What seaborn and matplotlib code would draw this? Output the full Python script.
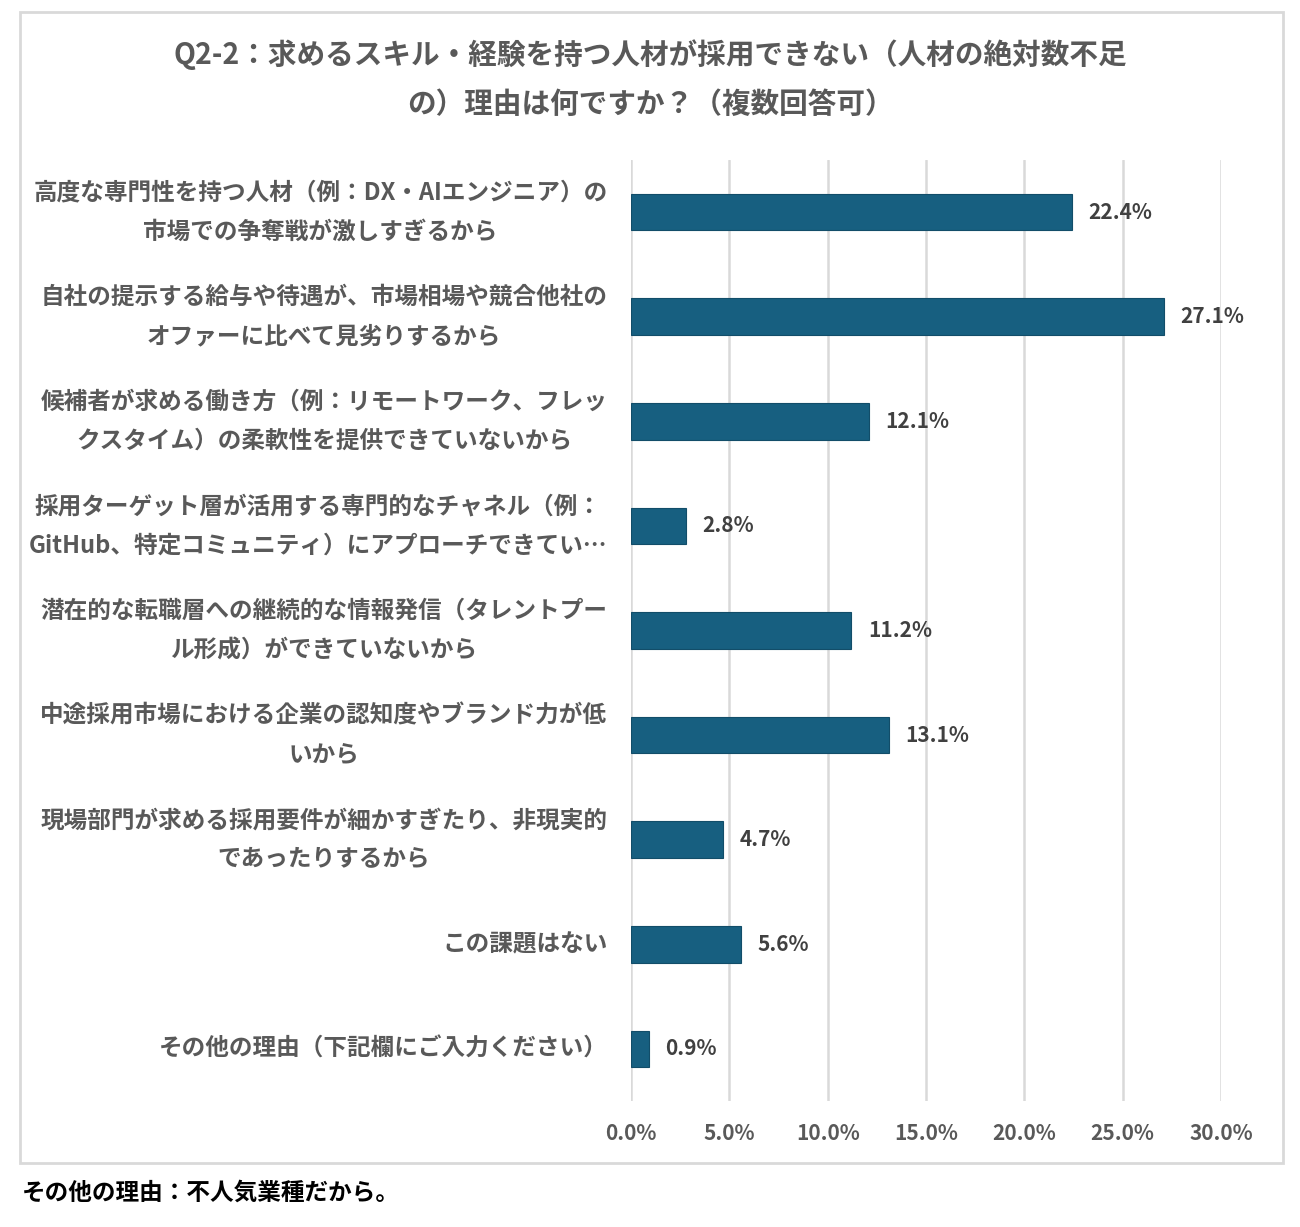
import matplotlib
matplotlib.use("Agg")
import matplotlib.pyplot as plt
import seaborn as sns
import pandas as pd
from matplotlib.patches import Rectangle

categories = [
    "高度な専門性を持つ人材（例：DX・AIエンジニア）の\n市場での争奪戦が激しすぎるから",
    "自社の提示する給与や待遇が、市場相場や競合他社の\nオファーに比べて見劣りするから",
    "候補者が求める働き方（例：リモートワーク、フレッ\nクスタイム）の柔軟性を提供できていないから",
    "採用ターゲット層が活用する専門的なチャネル（例：\nGitHub、特定コミュニティ）にアプローチできてい…",
    "潜在的な転職層への継続的な情報発信（タレントプー\nル形成）ができていないから",
    "中途採用市場における企業の認知度やブランド力が低\nいから",
    "現場部門が求める採用要件が細かすぎたり、非現実的\nであったりするから",
    "この課題はない",
    "その他の理由（下記欄にご入力ください）",
]
values = [22.4, 27.1, 12.1, 2.8, 11.2, 13.1, 4.7, 5.6, 0.9]
x_ticks = [0, 5, 10, 15, 20, 25, 30]
x_tick_labels = ["0.0%", "5.0%", "10.0%", "15.0%", "20.0%", "25.0%", "30.0%"]
title = "Q2-2：求めるスキル・経験を持つ人材が採用できない（人材の絶対数不足\nの）理由は何ですか？（複数回答可）"
footer = "その他の理由：不人気業種だから。"

sns.set_theme(style="white")
plt.rcParams["font.family"] = ["Noto Sans CJK JP", "DejaVu Sans"]

df = pd.DataFrame({"category": categories, "value": values})

fig = plt.figure(figsize=(13, 12.27), dpi=100)
ax = fig.add_axes([0.4854, 0.1025, 0.4538, 0.7673])

bar_color = "#175F80"
sns.barplot(data=df, x="value", y="category", orient="h", color=bar_color,
            width=0.35, saturation=1, edgecolor="#124d69", linewidth=0.8, ax=ax)

ax.set_xlim(0, 30)
ax.set_ylim(len(categories) - 0.5, -0.5)
ax.set_xticks(x_ticks)
ax.set_xticklabels(x_tick_labels, fontsize=15, color="#595959", fontweight="bold")
ax.set_yticks(range(len(categories)))
ax.set_yticklabels(categories, fontsize=17, color="#595959", fontweight="bold",
                   multialignment="center", linespacing=1.8, va="center")
ax.tick_params(axis="y", length=0, pad=17)
ax.tick_params(axis="x", length=0, pad=16)
ax.set_xlabel("")
ax.set_ylabel("")
for s in ax.spines.values():
    s.set_visible(False)
ax.grid(axis="x", color="#d9d9d9", linewidth=1.8)
ax.grid(axis="y", visible=False)
ax.set_axisbelow(True)

for container in ax.containers:
    ax.bar_label(container, labels=[f"{v:.1f}%" for v in values], padding=12,
                 fontsize=15, color="#404040", fontweight="bold")

fig.text(0.5, 0.9356, title, ha="center", va="center", fontsize=20.6,
         fontweight="bold", color="#595959", linespacing=1.8)
fig.text(0.017, 0.0277, footer, ha="left", va="center", fontsize=17,
         fontweight="bold", color="black")

fig.patches.append(Rectangle((20 / 1300, 1 - 1163 / 1227), 1263 / 1300, 1151 / 1227,
                             transform=fig.transFigure, fill=False,
                             edgecolor="#d9d9d9", linewidth=2))

fig.savefig("out.png", dpi=100, facecolor="white")
